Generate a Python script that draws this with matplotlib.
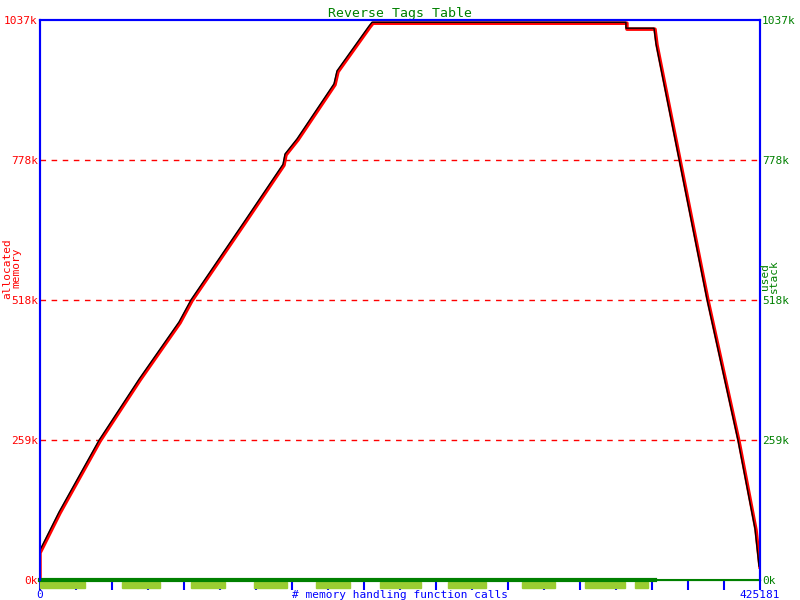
import matplotlib
matplotlib.use('Agg')
import matplotlib.pyplot as plt
import matplotlib.transforms as transforms
import numpy as np

plt.rcParams['font.family'] = ['DejaVu Sans Mono']
fs = 8
sfs = 8

xmax = 425181
ymax = 1037

# allocated memory (k) over # memory handling function calls
calls = [0, 0, 11811, 35432, 59053, 82674, 89760, 121059, 144090, 145271, 152357,
         174206, 175977, 194875, 196647, 346602, 346602, 363176, 364357, 366128,
         377939, 394474, 412780, 422820, 425181]
alloc = [0, 50, 124, 257, 370, 476, 517, 661, 768, 787, 815,
         917, 941, 1024, 1031, 1031, 1020, 1020, 991, 963,
         778, 518, 257, 93, 24]

# stack usage segments (light green bars under the axis)
seg_start = [0, 48423, 89170, 126374, 162986, 200780, 240936, 284635, 321839, 351365]
seg_end = [26574, 70864, 109248, 145861, 183064, 224992, 263376, 304123, 345460, 359042]

ytick_vals = [0, 259, 518, 778, 1037]
ytick_labels = ['0k', '259k', '518k', '778k', '1037k']

fig = plt.figure(figsize=(8, 6), dpi=100)
ax = fig.add_axes([0.05, 0.0333, 0.9, 0.9334])
ax.set_xlim(0, xmax)
ax.set_ylim(0, ymax)

# grid
for v in ytick_vals[1:-1]:
    ax.axhline(v, color='red', linestyle=(0, (4, 4)), linewidth=1, zorder=1)

ax.plot(calls, alloc, color='red', linewidth=2.5, zorder=3)
shifted = transforms.offset_copy(ax.transData, fig=fig, x=-1, y=1, units='dots')
ax.plot(calls, alloc, color='black', linewidth=1, zorder=4, transform=shifted)

# used stack line along the bottom
ax.plot([0, 363000], [0, 0], color='green', linewidth=3, zorder=5, clip_on=False)
ax.plot([363000, xmax], [0, 0], color='green', linewidth=1.5, zorder=5, clip_on=False)

trans = transforms.blended_transform_factory(ax.transData, ax.transAxes)
for s, e in zip(seg_start, seg_end):
    ax.add_patch(plt.Rectangle((s, -0.0027), e - s, -0.0107, transform=trans,
                               color='yellowgreen', clip_on=False, zorder=2))

for side in ['left', 'right', 'top']:
    ax.spines[side].set_color('blue')
    ax.spines[side].set_linewidth(1.5)
ax.spines['bottom'].set_color('green')

ax.set_xticks(np.linspace(0, xmax, 21))
ax.set_xticklabels(['0'] + [''] * 19 + [str(xmax)], fontsize=sfs)
ax.tick_params(axis='x', colors='blue', length=7, width=1.5, pad=0.5)

ax.set_yticks(ytick_vals)
ax.set_yticklabels(ytick_labels, color='red', fontsize=fs)
ax.tick_params(axis='y', length=0, pad=1.5)

ax2 = ax.twinx()
ax2.set_ylim(0, ymax)
ax2.set_yticks(ytick_vals)
ax2.set_yticklabels(ytick_labels, color='green', fontsize=fs)
ax2.tick_params(axis='y', length=0, pad=1.5)
for side in ['left', 'right', 'top']:
    ax2.spines[side].set_color('blue')
    ax2.spines[side].set_linewidth(1.5)
ax2.spines['bottom'].set_visible(False)

fig.text(0.5, 0.009, '# memory handling function calls', color='blue', fontsize=sfs,
         ha='center', va='center')
ax.set_title('Reverse Tags Table', color='green', fontsize=9.5, pad=2)

fig.text(0.015, 0.553, 'allocated\nmemory', color='red', fontsize=sfs, rotation=90,
         ha='center', va='center', linespacing=0.9)
fig.text(0.962, 0.54, 'used\nstack', color='green', fontsize=sfs, rotation=90,
         ha='center', va='center', linespacing=0.9)

plt.savefig('out.png', dpi=100)
